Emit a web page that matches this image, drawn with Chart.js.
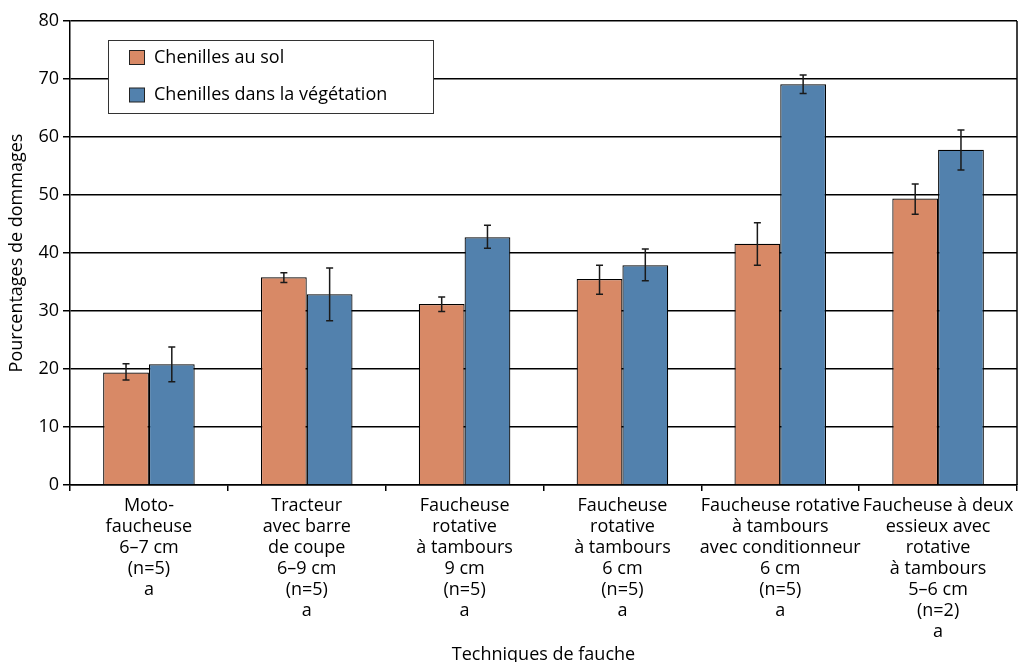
<!DOCTYPE html>
<html>
<head>
<meta charset="utf-8">
<script src="https://cdn.jsdelivr.net/npm/chart.js@4.4.1/dist/chart.umd.min.js"></script>
<style>
  html, body { margin: 0; padding: 0; background: #fff; }
  #wrap { width: 1027px; height: 662px; }
</style>
</head>
<body>
<div id="wrap"><canvas id="myChart" width="1027" height="662"></canvas></div>
<script>
// Data
const categories = [
  ['Moto-', 'faucheuse', '6–7 cm', '(n=5)', 'a'],
  ['Tracteur', 'avec barre', 'de coupe', '6–9 cm', '(n=5)', 'a'],
  ['Faucheuse', 'rotative', 'à tambours', '9 cm', '(n=5)', 'a'],
  ['Faucheuse', 'rotative', 'à tambours', '6 cm', '(n=5)', 'a'],
  ['Faucheuse rotative', 'à tambours', 'avec conditionneur', '6 cm', '(n=5)', 'a'],
  ['Faucheuse à deux', 'essieux avec', 'rotative', 'à tambours', '5–6 cm', '(n=2)', 'a']
]
const seriesNames = ['Chenilles au sol', 'Chenilles dans la végétation']
const solValues = [19.4, 35.8, 31.2, 35.5, 41.6, 49.4]
const solErrLow = [18.1, 34.9, 29.9, 32.9, 37.9, 46.7]
const solErrHigh = [20.9, 36.6, 32.4, 37.9, 45.2, 51.9]
const vegValues = [20.8, 32.9, 42.7, 37.9, 69.1, 57.8]
const vegErrLow = [17.8, 28.3, 40.8, 35.2, 67.5, 54.3]
const vegErrHigh = [23.8, 37.4, 44.8, 40.7, 70.7, 61.2]
const yTicks = [0, 10, 20, 30, 40, 50, 60, 70, 80]

const colors = {
  sol: '#D88966',
  veg: '#5281AD',
  line: '#000000',
  text: '#000000'
}
const fontFamily = '"Open Sans", "Noto Sans", sans-serif'

// Error bars drawn through the y scale
const errorBarPlugin = {
  id: 'errorBars',
  afterDatasetsDraw(chart) {
    const ctx = chart.ctx
    const yScale = chart.scales.y
    chart.data.datasets.forEach((ds, i) => {
      const meta = chart.getDatasetMeta(i)
      meta.data.forEach((bar, j) => {
        const yLo = yScale.getPixelForValue(ds.errLow[j])
        const yHi = yScale.getPixelForValue(ds.errHigh[j])
        ctx.save()
        ctx.strokeStyle = '#1a1a1a'
        ctx.lineWidth = 1.5
        ctx.beginPath()
        ctx.moveTo(bar.x, yLo)
        ctx.lineTo(bar.x, yHi)
        ctx.moveTo(bar.x - 3.5, yLo)
        ctx.lineTo(bar.x + 3.5, yLo)
        ctx.moveTo(bar.x - 3.5, yHi)
        ctx.lineTo(bar.x + 3.5, yHi)
        ctx.stroke()
        ctx.restore()
      })
    })
  }
}

// Right frame line and boxed legend inside the plot
const framePlugin = {
  id: 'frameLegend',
  afterDraw(chart) {
    const ctx = chart.ctx
    const area = chart.chartArea
    ctx.save()
    ctx.strokeStyle = colors.line
    ctx.lineWidth = 1.5
    ctx.beginPath()
    ctx.moveTo(area.right, area.top)
    ctx.lineTo(area.right, area.bottom)
    ctx.stroke()

    // legend box
    const bx = 108, by = 40, bw = 325, bh = 73
    ctx.fillStyle = '#ffffff'
    ctx.fillRect(bx, by, bw, bh)
    ctx.strokeStyle = '#333333'
    ctx.lineWidth = 1
    ctx.strokeRect(bx + 0.5, by + 0.5, bw, bh)

    const fills = [colors.sol, colors.veg]
    const rows = [57.5, 95]
    ctx.font = '18px ' + fontFamily
    ctx.textBaseline = 'middle'
    seriesNames.forEach((name, k) => {
      ctx.fillStyle = fills[k]
      ctx.fillRect(129.5, rows[k] - 7, 15, 14)
      ctx.strokeStyle = '#222222'
      ctx.strokeRect(129.5, rows[k] - 7, 15, 14)
      ctx.fillStyle = colors.text
      ctx.fillText(name, 154, rows[k])
    })
    ctx.restore()
  }
}

const ctx = document.getElementById('myChart').getContext('2d')
const myChart = new Chart(ctx, {
  type: 'bar',
  data: {
    labels: categories,
    datasets: [
      {
        label: seriesNames[0],
        data: solValues,
        errLow: solErrLow,
        errHigh: solErrHigh,
        backgroundColor: colors.sol,
        borderColor: '#000000',
        borderWidth: 1.2,
        categoryPercentage: 0.58,
        barPercentage: 1.0
      },
      {
        label: seriesNames[1],
        data: vegValues,
        errLow: vegErrLow,
        errHigh: vegErrHigh,
        backgroundColor: colors.veg,
        borderColor: '#000000',
        borderWidth: 1.2,
        categoryPercentage: 0.58,
        barPercentage: 1.0
      }
    ]
  },
  options: {
    responsive: false,
    animation: false,
    layout: {
      padding: { top: 21, right: 10, left: 0, bottom: 0 }
    },
    plugins: {
      legend: { display: false },
      tooltip: { enabled: false }
    },
    scales: {
      x: {
        grid: {
          offset: true,
          drawOnChartArea: false,
          drawTicks: true,
          tickLength: 6,
          color: colors.line,
          lineWidth: 1.5
        },
        border: { display: true, color: colors.line, width: 1.5 },
        ticks: {
          autoSkip: false,
          maxRotation: 0,
          minRotation: 0,
          color: colors.text,
          padding: 4,
          font: { family: fontFamily, size: 18, lineHeight: 1.17 }
        },
        title: {
          display: true,
          text: 'Techniques de fauche',
          color: colors.text,
          padding: { top: 0, bottom: -2 },
          font: { family: fontFamily, size: 18, lineHeight: 1.0 }
        },
        afterFit(scale) {
          scale.height = 177
        }
      },
      y: {
        min: 0,
        max: 80,
        afterBuildTicks(scale) {
          scale.ticks = yTicks.map(v => ({ value: v }))
        },
        grid: {
          color: colors.line,
          lineWidth: 1.5,
          drawTicks: true,
          tickLength: 7
        },
        border: { display: true, color: colors.line, width: 1.5 },
        ticks: {
          color: colors.text,
          padding: 4,
          font: { family: fontFamily, size: 18 }
        },
        title: {
          display: true,
          text: 'Pourcentages de dommages',
          color: colors.text,
          padding: { top: 6, bottom: 4 },
          font: { family: fontFamily, size: 18 }
        },
        afterFit(scale) {
          scale.width = 70
        }
      }
    }
  },
  plugins: [errorBarPlugin, framePlugin]
})
</script>
</body>
</html>
